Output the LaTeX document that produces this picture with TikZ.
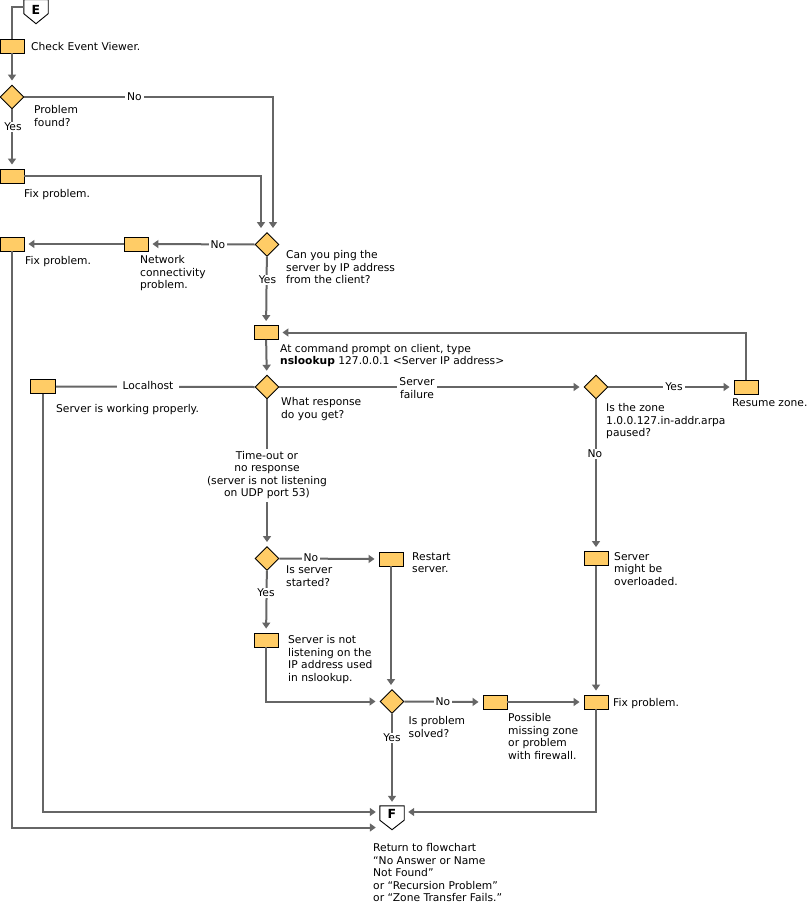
\documentclass[tikz,border=0pt]{standalone}
\usepackage{fontspec}
\setmainfont{DejaVu Sans}
\usetikzlibrary{shapes.geometric,arrows.meta}
\definecolor{bx}{HTML}{FFCC66}
\definecolor{lc}{HTML}{666666}
\tikzset{
  fnt/.style={font={\fontsize{10.7}{12.5}\selectfont}},
  ln/.style={draw=lc, line width=2pt},
  arr/.style={ln, -{Triangle[length=6pt,width=8pt]}, shorten >=4pt},
  box/.style={rectangle, draw=black, line width=0.9pt, fill=bx, minimum width=24pt, minimum height=14pt, inner sep=0pt},
  dia/.style={diamond, draw=black, line width=0.9pt, fill=bx, minimum width=24pt, minimum height=24pt, inner sep=0pt},
  conn/.style={rectangle, minimum width=24pt, minimum height=14pt, inner sep=0pt},
  connline/.style={draw=black, line width=0.9pt, fill=white},
  cletter/.style={font={\fontsize{12.5}{14}\selectfont\bfseries}, inner sep=0pt},
  txt/.style={fnt, anchor=north west, inner sep=0pt, align=left, execute at begin node=\strut},
  lbl/.style={fnt, fill=white, inner xsep=2pt, inner ysep=1.5pt, align=center},
}
\begin{document}
\begin{tikzpicture}[x=1pt,y=-1pt]
\useasboundingbox (0,0) rectangle (808,915);

% connectors E and F
\node[conn] (E) at (36,7) {};
\draw[connline] (E.north west) -- (E.north east) -- ([yshift=0.5pt]E.south east) -- ([yshift=-9.5pt]E.south) -- ([yshift=0.5pt]E.south west) -- cycle;
\node[cletter] (Et) at (36,9.5) {E};
\node[conn] (F) at (392,813) {};
\draw[connline] (F.north west) -- (F.north east) -- (F.south east) -- ([yshift=-9.5pt]F.south) -- (F.south west) -- cycle;
\node[cletter] (Ft) at (392,814) {F};

% boxes and diamonds
\node[box] (b1) at (12,46) {};
\node[dia] (d1) at (12,97) {};
\node[box] (b2) at (12,176) {};
\node[dia] (d2) at (267,244.5) {};
\node[box] (b3) at (136,244) {};
\node[box] (b4) at (12,244) {};
\node[box] (b5) at (266,332.5) {};
\node[box, minimum width=25pt] (b6) at (43,386.5) {};
\node[dia] (d3) at (267,387) {};
\node[dia] (d4) at (596,387) {};
\node[box] (b7) at (746,387) {};
\node[dia] (d5) at (267,558.5) {};
\node[box] (b8) at (391,559) {};
\node[box] (b9) at (596,558.5) {};
\node[box] (b10) at (266,640) {};
\node[dia] (d6) at (392,701.5) {};
\node[box] (b11) at (495,702) {};
\node[box] (b12) at (596,702) {};

% connectors
\draw[ln] (E.west) -| (b1.north);
\draw[arr] (b1) -- (d1);
\draw[arr] (d1.east) -| ([xshift=6pt]d2.north);
\draw[arr] (d1) -- (b2);
\draw[arr] (b2.east) -| ([xshift=-6pt]d2.north);
\draw[arr] (d2.west) -- (b3.east);
\draw[arr] (b3.west) -- (b4.east);
\draw[arr] (b4.south) |- ([yshift=-14.5pt]F.west);
\draw[arr] (d2) -- (b5);
\draw[arr] (b5) -- (d3);
\draw[arr] (b7.north) |- (b5.east);
\draw[ln] (d3.west) -- (b6.east);
\draw[arr] (b6.south) |- ([yshift=1pt]F.west);
\draw[arr] (d3.east) -- (d4.west);
\draw[arr] (d4.east) -- (b7.west);
\draw[arr] (d4) -- (b9);
\draw[arr] (b9) -- (b12);
\draw[arr] (b12.south) |- ([yshift=1pt]F.east);
\draw[arr] (d3) -- (d5);
\draw[arr] (d5.east) -- (b8.west);
\draw[arr] (d5) -- (b10);
\draw[arr] (b10.south) |- (d6.west);
\draw[arr] (b8.south) -- (b8.south |- d6.north);
\draw[arr] (d6.east) -- (b11.west);
\draw[arr] (b11.east) -- (b12.west);
\draw[arr] (d6) -- (F);

% labels on connectors
\node[lbl] (l1) at (134.5,97) {No};
\node[lbl] (l2) at (13,127) {Yes};
\node[lbl] (l3) at (218,244.5) {No};
\node[lbl] (l4) at (267.5,280) {Yes};
\node[lbl, inner xsep=6pt] (l5) at (148,386) {Localhost};
\node[lbl] (l6) at (417,388) {Server\\failure};
\node[lbl] (l7) at (674,387) {Yes};
\node[lbl] (l8) at (595,454) {No};
\node[lbl, anchor=north, inner ysep=2pt, execute at begin node=\strut] (l9) at (267,448.75) {Time-out or\\no response\\(server is not listening\\on UDP port 53)};
\node[lbl] (l10) at (311,557.5) {No};
\node[lbl] (l11) at (266,593) {Yes};
\node[lbl] (l12) at (443,701.5) {No};
\node[lbl] (l13) at (392,738) {Yes};

% texts
\node[txt] (t1) at (31,41.25) {Check Event Viewer.};
\node[txt] (t2) at (34,105.25) {Problem\\found?};
\node[txt] (t3) at (24,188.75) {Fix problem.};
\node[txt] (t4) at (25,255.25) {Fix problem.};
\node[txt] (t5) at (140,255.25) {Network\\connectivity\\problem.};
\node[txt] (t6) at (286,250.25) {Can you ping the\\server by IP address\\from the client?};
\node[txt] (t7) at (280,343.95) {At command prompt on client, type\\\textbf{nslookup} 127.0.0.1 <Server IP address>};
\node[txt] (t8) at (56,403.25) {Server is working properly.};
\node[txt] (t9) at (281,397.25) {What response\\do you get?};
\node[txt] (t10) at (606,403.25) {Is the zone\\1.0.0.127.in-addr.arpa\\paused?};
\node[txt] (t11) at (732,397.25) {Resume zone.};
\node[txt] (t13) at (286,565.75) {Is server\\started?};
\node[txt] (t14) at (412,552.25) {Restart\\server.};
\node[txt] (t15) at (614,552.25) {Server\\might be\\overloaded.};
\node[txt] (t16) at (288,635.25) {Server is not\\listening on the\\IP address used\\in nslookup.};
\node[txt] (t17) at (408.5,716.25) {Is problem\\solved?};
\node[txt] (t18) at (508,713.25) {Possible\\missing zone\\or problem\\with firewall.};
\node[txt] (t19) at (613,697.25) {Fix problem.};
\node[txt] (t20) at (373,843.25) {Return to flowchart\\“No Answer or Name\\Not Found”\\or “Recursion Problem”\\or “Zone Transfer Fails.”};
\end{tikzpicture}
\end{document}
